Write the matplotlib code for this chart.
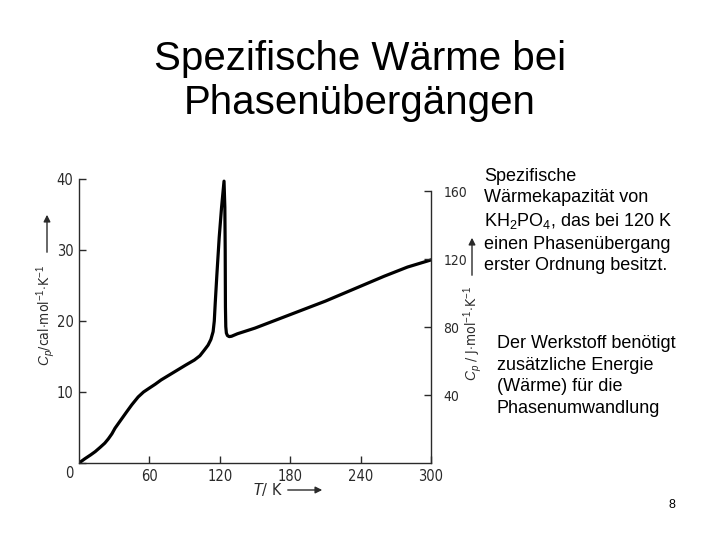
import matplotlib
matplotlib.use("Agg")
import matplotlib.pyplot as plt
from matplotlib.patches import FancyArrowPatch
from matplotlib.transforms import ScaledTranslation

plt.rcParams["mathtext.fontset"] = "custom"
plt.rcParams["mathtext.rm"] = "Liberation Sans"
plt.rcParams["mathtext.it"] = "Liberation Sans:italic"

# Data (T in K, cp in cal/(mol K))
T = [0, 5, 10, 13.8, 18, 22, 25, 28, 30.7, 35, 40.6, 45, 50.4, 55, 59.5, 65, 70,
     77, 84, 91, 98.3, 103, 106.8, 110, 112.4, 114.3, 115.3, 116.1,
     117.5, 119.5, 121.5, 123.6, 124.3, 124.6, 124.8, 125.1, 125.6, 126.5, 128,
     130, 135, 150, 180, 210, 240, 260, 280, 300]
cp = [0, 0.6, 1.15, 1.6, 2.2, 2.8, 3.4, 4.1, 4.9, 5.9, 7.2, 8.2, 9.3, 10.0, 10.5,
      11.1, 11.7, 12.4, 13.1, 13.8, 14.5, 15.1, 15.9, 16.6, 17.4, 18.5, 20.0, 22.5,
      26.5, 31.8, 36.0, 39.7, 36.0, 30.0, 22.0, 19.2, 18.3, 17.95, 17.8,
      17.85, 18.2, 19.0, 20.9, 22.8, 24.9, 26.3, 27.6, 28.6]

x_ticks = [60, 120, 180, 240, 300]
y_ticks_cal = [0, 10, 20, 30, 40]
y_ticks_J = [40, 80, 120, 160]
CAL_TO_J = 4.184

title = "Spezifische Wärme bei\nPhasenübergängen"
text1 = ("Spezifische\nWärmekapazität von\nKH$_2$PO$_4$, das bei 120 K\n"
         "einen Phasenübergang\nerster Ordnung besitzt.")
text2 = "Der Werkstoff benötigt\nzusätzliche Energie\n(Wärme) für die\nPhasenumwandlung"

W, H = 720, 540
fig = plt.figure(figsize=(7.2, 5.4), dpi=100)
fig.patch.set_facecolor("white")

def fx(px):
    return px / W

def fy(py):
    return 1 - py / H

ink = "#2a2a2a"
scanfont = dict(family="DejaVu Sans", stretch="condensed", color=ink)

ax = fig.add_axes([fx(79), fy(463), fx(431) - fx(79), fy(179) - fy(463)])
ax.plot(T, cp, color="black", lw=2.3, solid_joinstyle="round")
ax.set_xlim(0, 300)
ax.set_ylim(0, 40)
ax.spines["top"].set_visible(False)
ax.spines["right"].set_visible(False)
for s in ("left", "bottom"):
    ax.spines[s].set_color(ink)
    ax.spines[s].set_linewidth(1.0)
ax.set_xticks(x_ticks)
ax.set_yticks(y_ticks_cal)
ax.tick_params(direction="in", length=5, width=1.0, color=ink, labelcolor=ink,
               labelsize=10.5, pad=4)
for lab in ax.get_xticklabels() + ax.get_yticklabels():
    lab.set_family("DejaVu Sans")
    lab.set_stretch("condensed")
ylabs = ax.get_yticklabels()
ylabs[0].set_transform(ylabs[0].get_transform() + ScaledTranslation(0, -0.09, fig.dpi_scale_trans))

ax2 = ax.twinx()
ax2.set_ylim(0, 40 * CAL_TO_J)
ax2.spines["top"].set_visible(False)
ax2.spines["left"].set_visible(False)
ax2.spines["bottom"].set_visible(False)
ax2.spines["right"].set_color(ink)
ax2.spines["right"].set_linewidth(1.0)
ax2.spines["right"].set_bounds(0, 160)
ax2.set_yticks(y_ticks_J)
ax2.tick_params(direction="in", length=5, width=1.0, color=ink, labelcolor=ink,
                labelsize=10, pad=9)
for lab in ax2.get_yticklabels():
    lab.set_family("DejaVu Sans")
    lab.set_stretch("condensed")

# axis labels
fig.text(fx(46), fy(315), r"$C_p$/cal$\cdot$mol$^{-1}$$\cdot$K$^{-1}$", rotation=90,
         ha="center", va="center", fontsize=10, **scanfont)
fig.text(fx(473), fy(333), r"$C_p$ / J$\cdot$mol$^{-1}$$\cdot$K$^{-1}$", rotation=90,
         ha="center", va="center", fontsize=10, **scanfont)
fig.text(fx(267), fy(489), r"$T$/ K", ha="center", va="center", fontsize=11.5, **scanfont)

arrow = dict(arrowstyle="-|>", color=ink, lw=1.0, mutation_scale=10)
fig.add_artist(FancyArrowPatch((fx(47), fy(255)), (fx(47), fy(212)),
                               transform=fig.transFigure, **arrow))
fig.add_artist(FancyArrowPatch((fx(472), fy(278)), (fx(472), fy(235)),
                               transform=fig.transFigure, **arrow))
fig.add_artist(FancyArrowPatch((fx(285), fy(490)), (fx(325), fy(490)),
                               transform=fig.transFigure, **arrow))

# slide texts
fig.text(0.5, fy(81), title, ha="center", va="center", fontsize=29,
         family="Liberation Sans", linespacing=1.17)
fig.text(fx(484), fy(168), text1, ha="left", va="top", fontsize=13,
         family="Liberation Sans", linespacing=1.33)
fig.text(fx(497), fy(335), text2, ha="left", va="top", fontsize=13,
         family="Liberation Sans", linespacing=1.35)
fig.text(fx(672), fy(505), "8", ha="center", va="center", fontsize=9,
         family="Liberation Sans")

fig.savefig("out.png", dpi=100)
